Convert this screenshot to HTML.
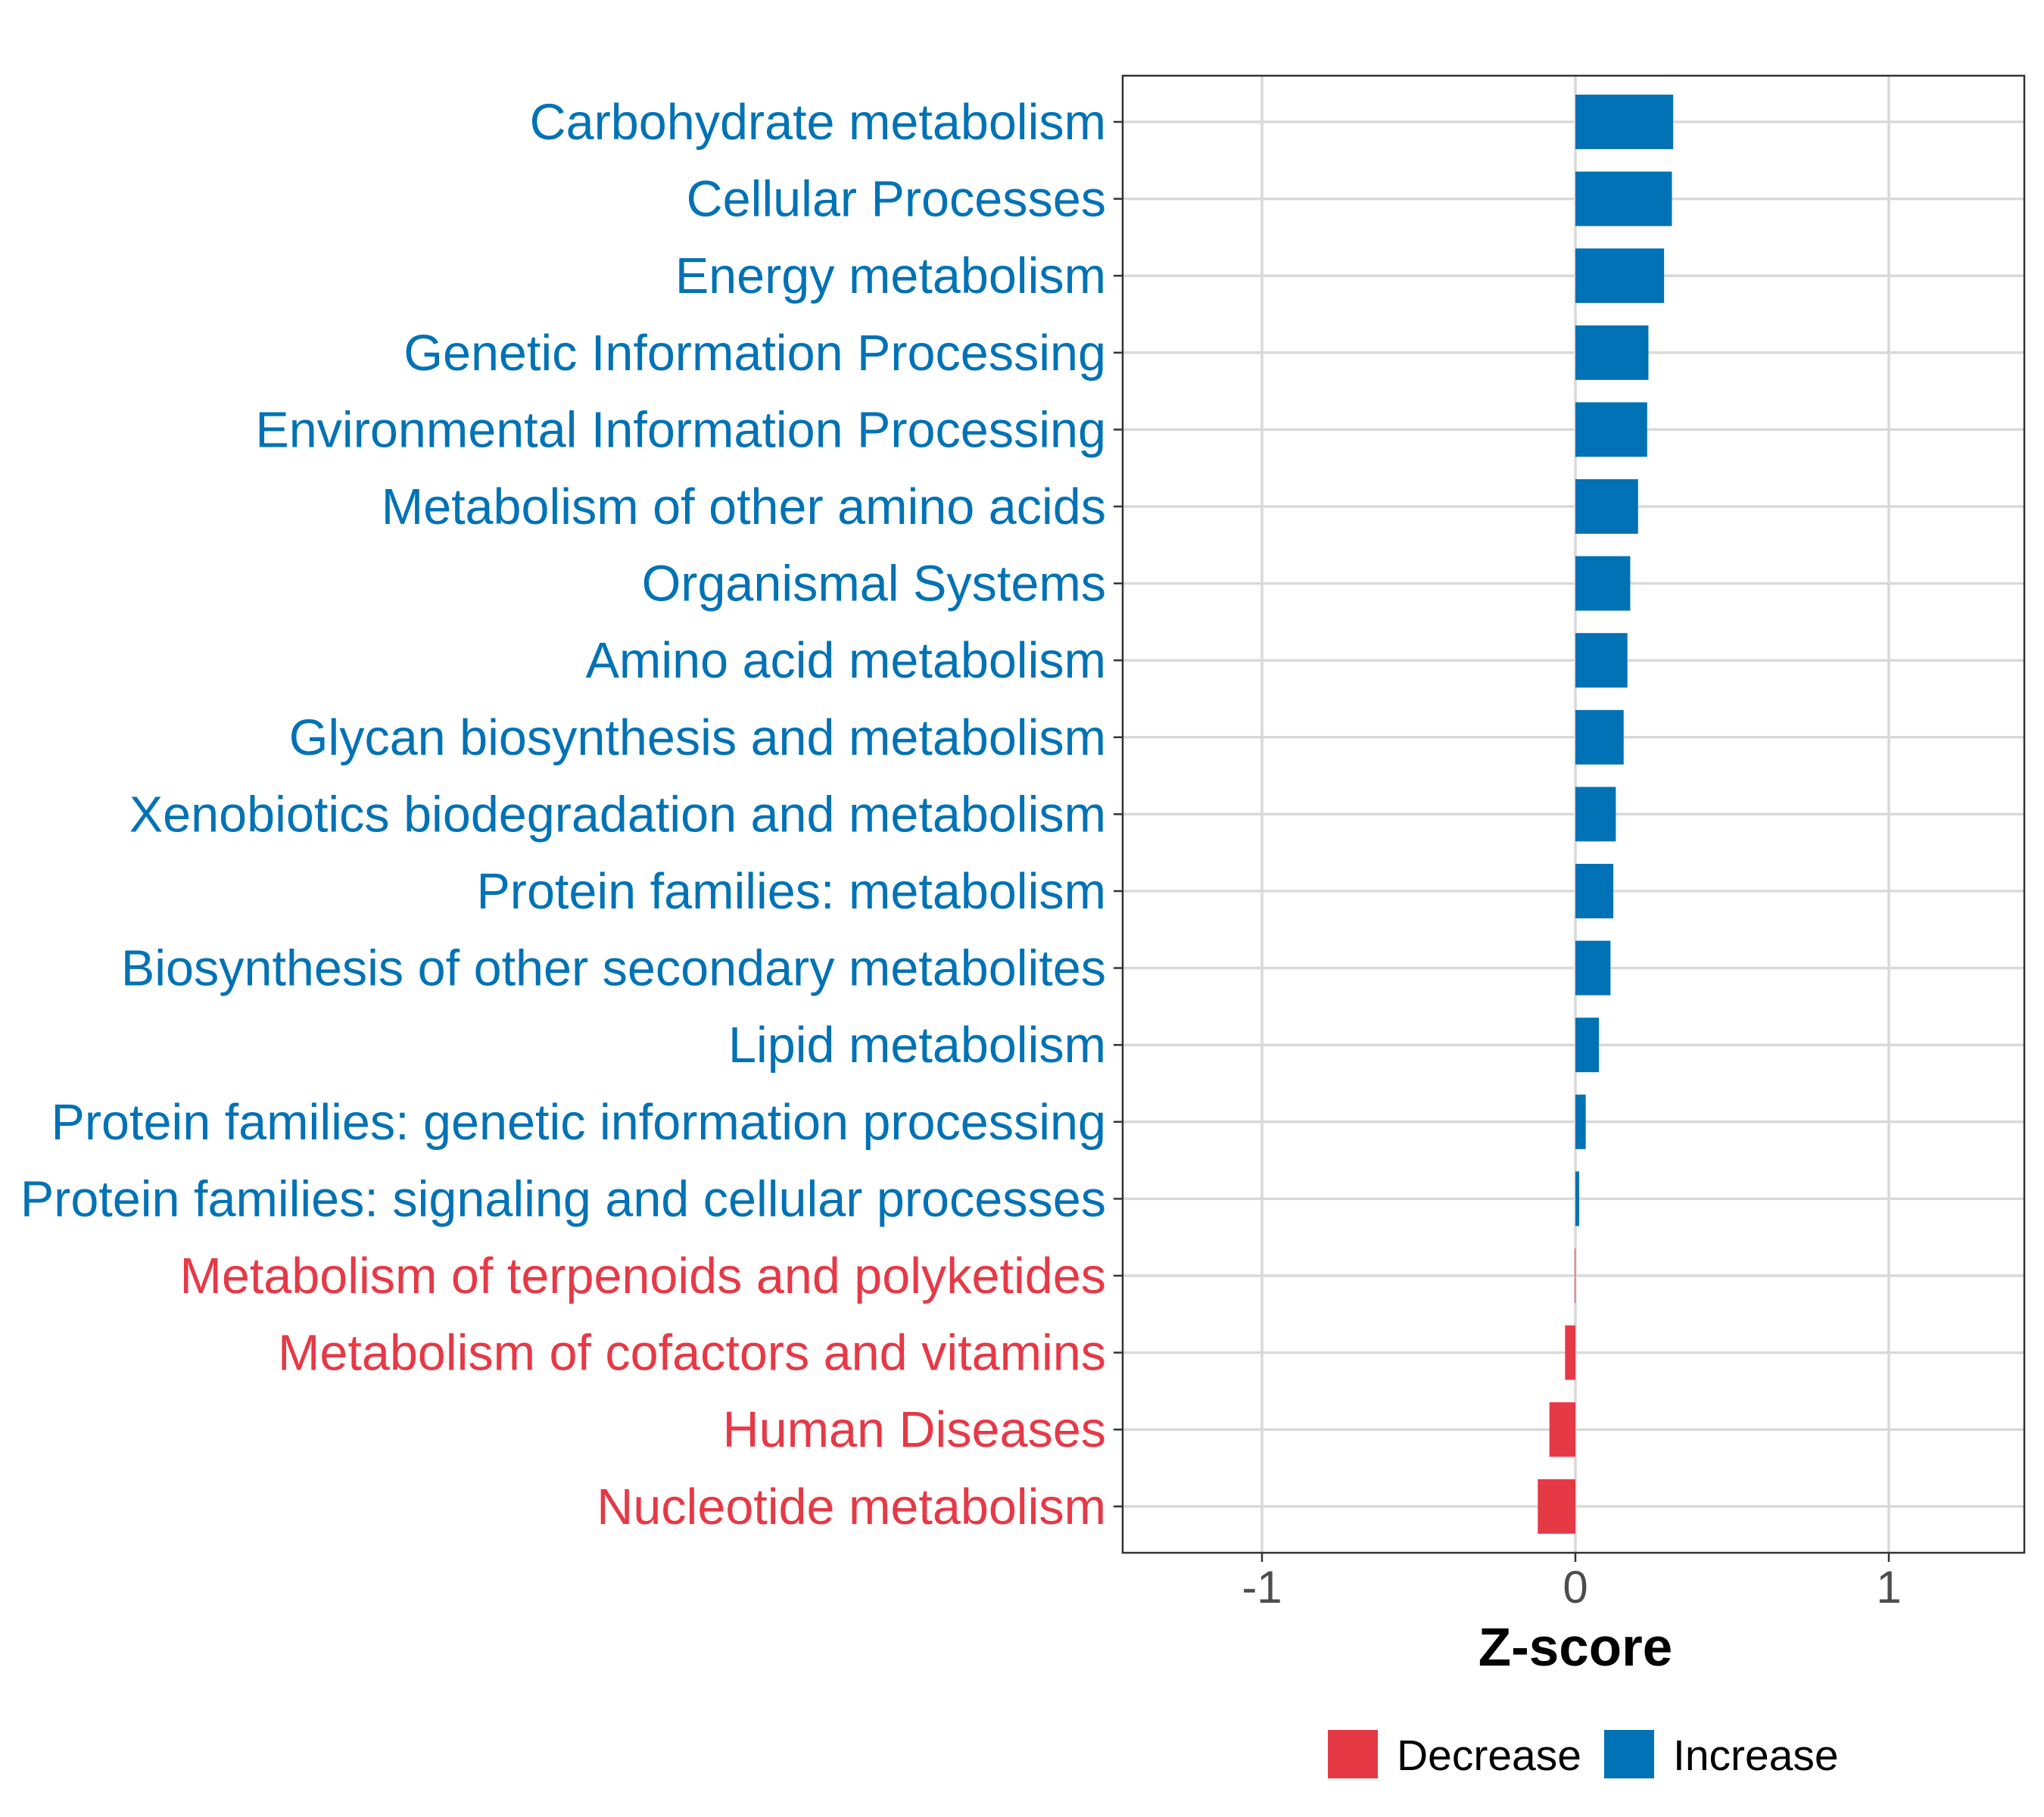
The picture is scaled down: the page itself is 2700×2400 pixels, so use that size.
<!DOCTYPE html>
<html><head><meta charset="utf-8"><style>
html,body{margin:0;padding:0;background:#fff;}
svg{display:block;font-family:"Liberation Sans",Arial,sans-serif;}
</style></head><body>
<svg id="chart" width="2700" height="2400" viewBox="0 0 2700 2400" xmlns="http://www.w3.org/2000/svg">
<rect width="2700" height="2400" fill="#fff"/>
<g id="grid"></g>
<g id="bars"></g>
<rect x="1483" y="100" width="1191" height="1951" fill="none" stroke="#333" stroke-width="2.5"/>
<g id="yaxis"></g>
<g id="xaxis"></g>
<text x="2081" y="2200" text-anchor="middle" font-size="71" font-weight="bold" fill="#000">Z-score</text>
<g>
<rect x="1754" y="2285" width="66" height="64" fill="#E63946"/>
<text x="1845" y="2338" font-size="57" fill="#000">Decrease</text>
<rect x="2119" y="2285" width="66" height="64" fill="#0072B5"/>
<text x="2210" y="2338" font-size="57" fill="#000">Increase</text>
</g>
</svg>
<script>
const categories = ["Carbohydrate metabolism","Cellular Processes","Energy metabolism","Genetic Information Processing","Environmental Information Processing","Metabolism of other amino acids","Organismal Systems","Amino acid metabolism","Glycan biosynthesis and metabolism","Xenobiotics biodegradation and metabolism","Protein families: metabolism","Biosynthesis of other secondary metabolites","Lipid metabolism","Protein families: genetic information processing","Protein families: signaling and cellular processes","Metabolism of terpenoids and polyketides","Metabolism of cofactors and vitamins","Human Diseases","Nucleotide metabolism"];
const zscores = [0.312,0.308,0.283,0.233,0.229,0.2,0.175,0.166,0.154,0.129,0.121,0.112,0.075,0.033,0.012,-0.002,-0.033,-0.083,-0.12];
const xTicks = [-1,0,1];
const xTickLabels = ["-1","0","1"];

const NS="http://www.w3.org/2000/svg";
const pL=1483, pR=2674, pT=100, pB=2051;
function xs(v){return 2081+v*414;}
const step=101.6, y0=161;
function ys(i){return y0+i*step;}
const BLUE="#0072B5", RED="#E63946";
function mk(tag,attrs,parent){const e=document.createElementNS(NS,tag);for(const k in attrs)e.setAttribute(k,attrs[k]);parent.appendChild(e);return e;}
const grid=document.getElementById('grid'), bars=document.getElementById('bars'), ya=document.getElementById('yaxis'), xa=document.getElementById('xaxis');
xTicks.forEach((t,i)=>{
  const l=mk('line',{x1:xs(t),x2:xs(t),y1:pT,y2:pB,stroke:'#d9d9d9','stroke-width':3.5},grid);
  
  
  const tk=mk('line',{x1:xs(t),x2:xs(t),y1:pB,y2:pB+12,stroke:'#333','stroke-width':2.5},xa);
  
  
  const tx=mk('text',{x:xs(t),y:2117,'text-anchor':'middle','font-size':60,fill:'#4d4d4d'},xa);
  tx.textContent=xTickLabels[i];
  
  
});
categories.forEach((c,i)=>{
  const y=ys(i), v=zscores[i], col=v>=0?BLUE:RED;
  const g=mk('line',{x1:pL,x2:pR,y1:y,y2:y,stroke:'#d9d9d9','stroke-width':3.5},grid);
  
  
  const x1=Math.min(xs(0),xs(v)), w=Math.max(Math.abs(xs(v)-xs(0)),1);
  const b=mk('rect',{x:x1,y:y-36,width:w,height:72,fill:col},bars);
  
  
  const tk=mk('line',{x1:pL-12,x2:pL,y1:y,y2:y,stroke:'#333','stroke-width':2.5},ya);
  
  
  const t=mk('text',{x:1461,y:y+23,'text-anchor':'end','font-size':66.5,fill:col},ya);
  t.textContent=c;
  
  
});
</script>
</body></html>
